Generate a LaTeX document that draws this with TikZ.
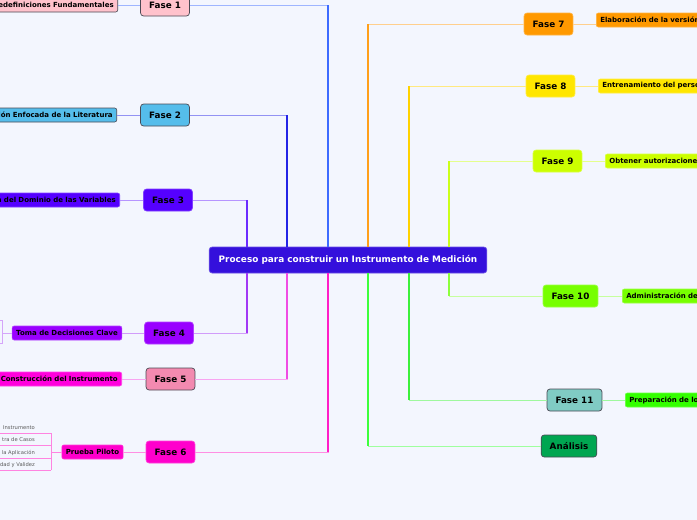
\documentclass[tikz,border=0pt]{standalone}
\usepackage{fontspec}
\setmainfont{DejaVu Sans}

\definecolor{canvas}{HTML}{F3F6FE}
\definecolor{proccol}{HTML}{3410DC}
\definecolor{rimcol}{HTML}{4A4A55}
% phase fills
\definecolor{c1}{HTML}{FFC2CC}
\definecolor{c2}{HTML}{55BDEB}
\definecolor{c3}{HTML}{5500FF}
\definecolor{c4}{HTML}{9900FF}
\definecolor{c5}{HTML}{F38AB0}
\definecolor{c6}{HTML}{FF00CC}
\definecolor{c7}{HTML}{FF9900}
\definecolor{c8}{HTML}{FFE600}
\definecolor{c9}{HTML}{CCFF00}
\definecolor{c10}{HTML}{77FF00}
\definecolor{c11}{HTML}{80CBC4}
\definecolor{ca}{HTML}{00A651}
\definecolor{k5}{HTML}{FF00DD}
\definecolor{k11}{HTML}{33FF00}
% branch colours
\definecolor{br1}{HTML}{3D6BFF}
\definecolor{br2}{HTML}{2424E6}
\definecolor{br3}{HTML}{6C2CFF}
\definecolor{br4}{HTML}{A238F5}
\definecolor{br5}{HTML}{F04CE4}
\definecolor{br6}{HTML}{FF1EC8}
\definecolor{br7}{HTML}{FF9F1A}
\definecolor{br8}{HTML}{FFD200}
\definecolor{br9}{HTML}{CCFF1A}
\definecolor{br10}{HTML}{8CFF3C}
\definecolor{br11}{HTML}{3CF03C}
\definecolor{bra}{HTML}{3CFF3C}

\begin{document}
\begin{tikzpicture}[x=1pt,y=-1pt,
    main/.style={fill=proccol,draw=proccol!75!white,line width=0.7pt,text=white,
                 rounded corners=3pt,minimum height=26pt,inner xsep=9.5pt,
                 font=\fontsize{8.9}{10}\selectfont\bfseries},
    fase/.style={fill=#1,draw=#1!75!white,line width=0.7pt,rounded corners=3pt,
                 minimum height=22pt,inner xsep=8.5pt,
                 font=\fontsize{8.8}{10}\selectfont\bfseries},
    rim/.style={draw=rimcol},
    kid/.style={fill=#1,draw=#1!75!white,line width=0.6pt,rounded corners=2pt,
                minimum height=14pt,inner xsep=4pt,inner ysep=0pt,
                font=\fontsize{7}{8}\selectfont\bfseries},
    cutl/.style={anchor=east,text width=150pt,align=right},
    cutr/.style={anchor=west,text width=150pt,align=left},
    leaf/.style={anchor=base east,inner sep=0pt,text=gray!70!black,
                 font=\fontsize{5.2}{6}\selectfont},
    stem/.style={line width=1.2pt},
    twig/.style={line width=0.8pt}]

  % --- canvas ---
  \useasboundingbox (0,0) rectangle (697,520);
  \fill[canvas] (0,0) rectangle (697,520);
  \clip (0,0) rectangle (697,520);
  \coordinate (edge) at (0,0);

  % --- centre ---
  \node[main] (proc) at (348,260) {Proceso para construir un Instrumento de Medición};
  \foreach \n/\s in {3/-101,2/-61,1/-20,7/20,8/61,9/101}
    \coordinate (p\n) at ([xshift=\s pt]proc.north);
  \foreach \n/\s in {4/-101,5/-61,6/-20,a/20,11/61,10/101}
    \coordinate (p\n) at ([xshift=\s pt]proc.south);

  % --- left phases ---
  \node[fase=c1,rim] (f1) at (165,5)     {Fase 1};
  \node[fase=c2,rim] (f2) at (165,115)   {Fase 2};
  \node[fase=c3]     (f3) at (168,200)   {Fase 3};
  \node[fase=c4]     (f4) at (169,333)   {Fase 4};
  \node[fase=c5,rim] (f5) at (170.5,379) {Fase 5};
  \node[fase=c6]     (f6) at (170.5,452) {Fase 6};

  % --- right phases ---
  \node[fase=c7]      (f7)  at (548.5,24)  {Fase 7};
  \node[fase=c8]      (f8)  at (550.5,86)  {Fase 8};
  \node[fase=c9]      (f9)  at (557.5,161) {Fase 9};
  \node[fase=c10]     (f10) at (570.5,296) {Fase 10};
  \node[fase=c11,rim] (f11) at (574.5,400) {Fase 11};
  \node[fase=ca,rim]  (fa)  at (569,446)   {Análisis};

  % --- branches ---
  \foreach \n in {1,2,3,4,5,6,7,8,9,10,11,a} {
    \draw[twig,br\n!50!white] (p\n) |- (f\n);
    \draw[stem,br\n] (p\n) -- (p\n |- f\n);
  }

  % --- sub topics ---
  \node[kid=c1,rim,cutl] (d1) at (118,5)   {edefiniciones Fundamentales};
  \node[kid=c2,rim,cutl] (d2) at (117,115) {ión Enfocada de la Literatura};
  \node[kid=c3,cutl]     (d3) at (120,200) {n del Dominio de las Variables};
  \node[kid=c4]          (d4) at (67,333)  {Toma de Decisiones Clave};
  \node[kid=k5,cutl]     (d5) at (122,379) {Construcción del Instrumento};
  \node[kid=c6]          (d6) at (92.5,452) {Prueba Piloto};
  \node[kid=c7,cutr]     (d7)  at (596,20)  {Elaboración de la versión};
  \node[kid=c8,cutr]     (d8)  at (598,86)  {Entrenamiento del perso};
  \node[kid=c9,cutr]     (d9)  at (605,161) {Obtener autorizacione};
  \node[kid=c10,cutr]    (d10) at (622,296) {Administración de};
  \node[kid=k11,cutr]    (d11) at (625,400) {Preparación de lo};

  \foreach \n in {1,2,3,4,5,6,8,9,10,11}
    \draw[twig,br\n!50!white] (f\n) -- (d\n);
  \draw[twig,br7!50!white] (f7) -- (f7 -| d7.west);

  % --- Fase 4 bracket ---
  \coordinate (q1) at (2,320);
  \coordinate (q2) at (2,343);
  \draw[twig,br4!45!white] (d4.west) -- (d4.west -| q1);
  \draw[twig,br4!45!white] (edge |- q1) -- (q1) -- (q2) -- (edge |- q2);

  % --- Fase 6 leaves ---
  \foreach \i/\y/\t in {1/433/Instrumento, 2/445/tra de Casos,
                        3/458/la Aplicación, 4/470/dad y Validez} {
    \coordinate (u\i) at (51,\y);
    \node[leaf] (g\i) at (35,\y-3.5) {\t};
    \draw[twig,br6!55!white] (u\i) -- (u\i -| edge);
  }
  \draw[twig,br6!55!white] (u1) -- (u4);
  \draw[twig,br6!55!white] (d6) -- (d6 -| u1);

\end{tikzpicture}
\end{document}
